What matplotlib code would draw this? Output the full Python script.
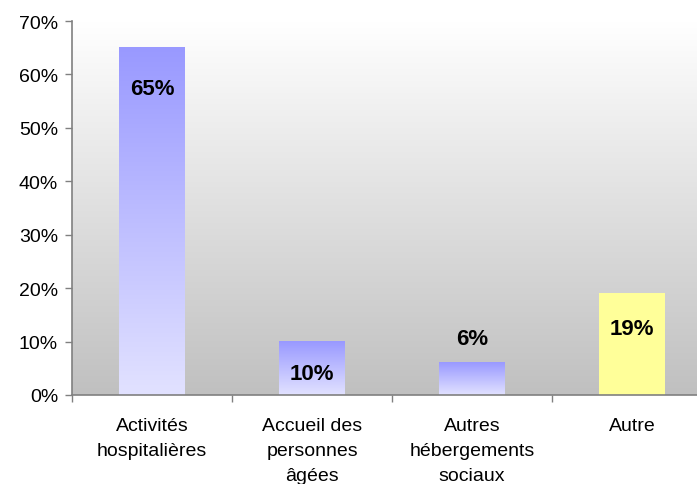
import numpy as np
import matplotlib
matplotlib.use("Agg")
import matplotlib.pyplot as plt
from matplotlib.colors import LinearSegmentedColormap

plt.rcParams["font.family"] = ["Liberation Sans", "DejaVu Sans"]

# Repartition par type d'activite
categories = ["Activités\nhospitalières", "Accueil des\npersonnes\nâgées",
              "Autres\nhébergements\nsociaux", "Autre"]
values = [65, 10, 6, 19]
labels = ["65%", "10%", "6%", "19%"]
# hauteur des etiquettes (en % de l'axe)
label_y = [57.4, 4.0, 10.6, 12.5]

fig = plt.figure(figsize=(6.97, 4.85), dpi=100)
ax = fig.add_axes([72 / 697, 89 / 485, 640 / 697, 374 / 485])

ax.set_xlim(-0.5, 3.5)
ax.set_ylim(0, 70)

# fond du graphique : degrade blanc -> gris
bg = LinearSegmentedColormap.from_list("bg", ["#c0c0c0", "#ffffff"])
grad = np.linspace(0, 1, 256).reshape(-1, 1)
ax.imshow(grad, cmap=bg, origin="lower", aspect="auto",
          extent=(-0.5, 3.5, 0, 70), zorder=0)

blue = LinearSegmentedColormap.from_list("blue", ["#e2e2ff", "#9999ff"])
width = 0.41
for i, v in enumerate(values):
    if i == 3:
        ax.bar(i, v, width=width, color="#ffff99", zorder=2)
    else:
        ax.imshow(grad, cmap=blue, origin="lower", aspect="auto",
                  extent=(i - width / 2, i + width / 2, 0, v), zorder=2)
    ax.text(i, label_y[i], labels[i], ha="center", va="center",
            fontsize=16, fontweight="bold", color="black", zorder=3)

ax.set_xlim(-0.5, 3.5)
ax.set_ylim(0, 70)

ax.set_yticks(np.arange(0, 71, 10))
ax.set_yticklabels([f"{t}%" for t in range(0, 71, 10)], fontsize=14)
ax.set_xticks(np.arange(-0.5, 3.6, 1))
ax.set_xticklabels([])
for i, c in enumerate(categories):
    ax.text(i, -4.1, c, ha="center", va="top", fontsize=14,
            linespacing=1.6)

ax.tick_params(axis="both", direction="out", length=5, width=1,
               color="#808080", pad=5)
for s in ["top", "right"]:
    ax.spines[s].set_visible(False)
for s in ["left", "bottom"]:
    ax.spines[s].set_color("#808080")
    ax.spines[s].set_linewidth(1.2)

fig.savefig("out.png", dpi=100, facecolor="white")
